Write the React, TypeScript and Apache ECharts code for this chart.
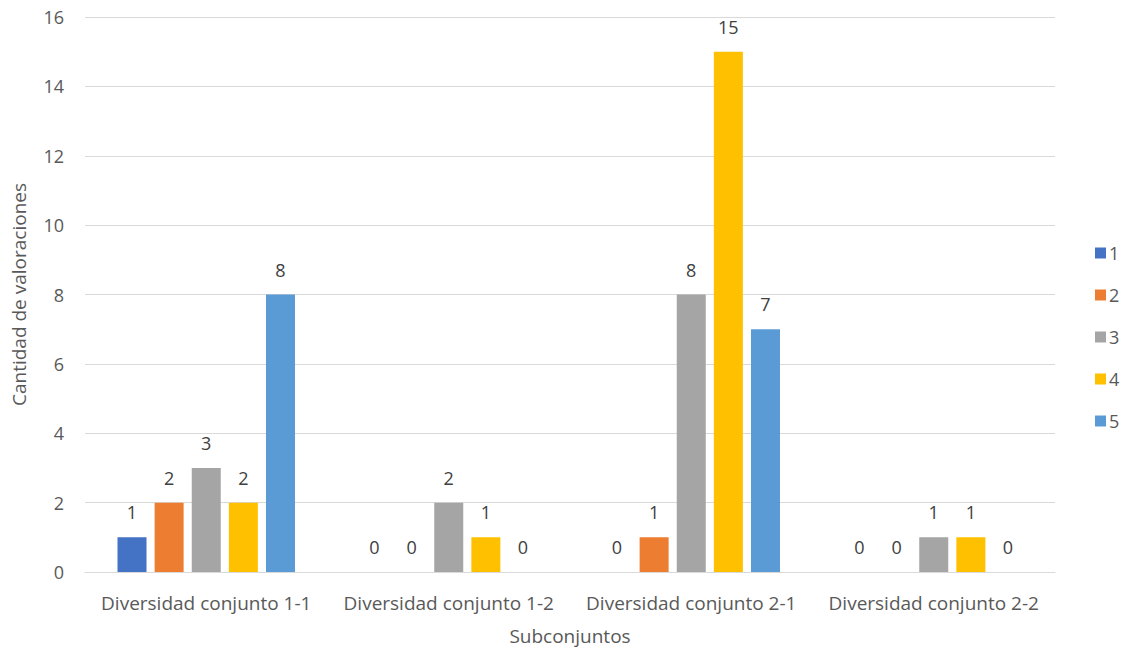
import React, { useEffect, useRef } from "react";
import * as echarts from "echarts";

const categories = [
  "Diversidad conjunto 1-1",
  "Diversidad conjunto 1-2",
  "Diversidad conjunto 2-1",
  "Diversidad conjunto 2-2",
];
const seriesNames = ["1", "2", "3", "4", "5"];
const values1 = [1, 0, 0, 0];
const values2 = [2, 0, 1, 0];
const values3 = [3, 2, 8, 1];
const values4 = [2, 1, 15, 1];
const values5 = [8, 0, 7, 0];
const colors = ["#4472C4", "#ED7D31", "#A5A5A5", "#FFC000", "#5B9BD5"];
const yTicks = [0, 2, 4, 6, 8, 10, 12, 14, 16];

const FONT = "Open Sans";
const TXT = "#595959";

export default function App() {
  const ref = useRef<HTMLDivElement>(null);
  useEffect(() => {
    if (!ref.current) return;
    const chart = echarts.init(ref.current, undefined, { renderer: "svg" });
    const all = [values1, values2, values3, values4, values5];
    chart.setOption({
      animation: false,
      textStyle: { fontFamily: FONT, color: TXT },
      grid: {
        left: 85,
        right: 71,
        top: 17,
        bottom: 77,
        containLabel: false,
        outerBoundsMode: "none",
      },
      legend: {
        orient: "vertical",
        left: 1090,
        top: 239,
        itemWidth: 11,
        itemHeight: 11,
        itemGap: 24,
        icon: "rect",
        textStyle: { fontFamily: FONT, fontSize: 18, color: TXT, padding: [0, 0, 0, -2] },
        data: seriesNames,
      },
      xAxis: {
        type: "category",
        data: categories,
        name: "Subconjuntos",
        nameLocation: "middle",
        nameGap: 54,
        nameTextStyle: { fontFamily: FONT, fontSize: 19, color: TXT },
        axisLine: { lineStyle: { color: "#D9D9D9", width: 1 } },
        axisTick: { show: false },
        axisLabel: { fontFamily: FONT, fontSize: 19, color: TXT, margin: 21, interval: 0 },
      },
      yAxis: {
        type: "value",
        min: yTicks[0],
        max: yTicks[yTicks.length - 1],
        interval: 2,
        name: "Cantidad de valoraciones",
        nameLocation: "middle",
        nameGap: 57,
        nameTextStyle: { fontFamily: FONT, fontSize: 19, color: TXT },
        axisLine: { show: false },
        axisTick: { show: false },
        splitLine: { lineStyle: { color: "#D9D9D9", width: 1 } },
        axisLabel: { fontFamily: FONT, fontSize: 18, color: TXT, margin: 21 },
      },
      series: seriesNames.map((n, i) => ({
        name: n,
        type: "bar",
        data: all[i],
        barWidth: 29,
        barGap: "28%",
        itemStyle: { color: colors[i] },
        label: {
          show: true,
          position: "top",
          distance: 16,
          fontFamily: FONT,
          fontSize: 18,
          color: "#404040",
        },
      })),
    });
    return () => chart.dispose();
  }, []);
  return (
    <div
      ref={ref}
      style={{ position: "fixed", left: 0, top: 0, width: 1126, height: 649, background: "#fff" }}
    />
  );
}
